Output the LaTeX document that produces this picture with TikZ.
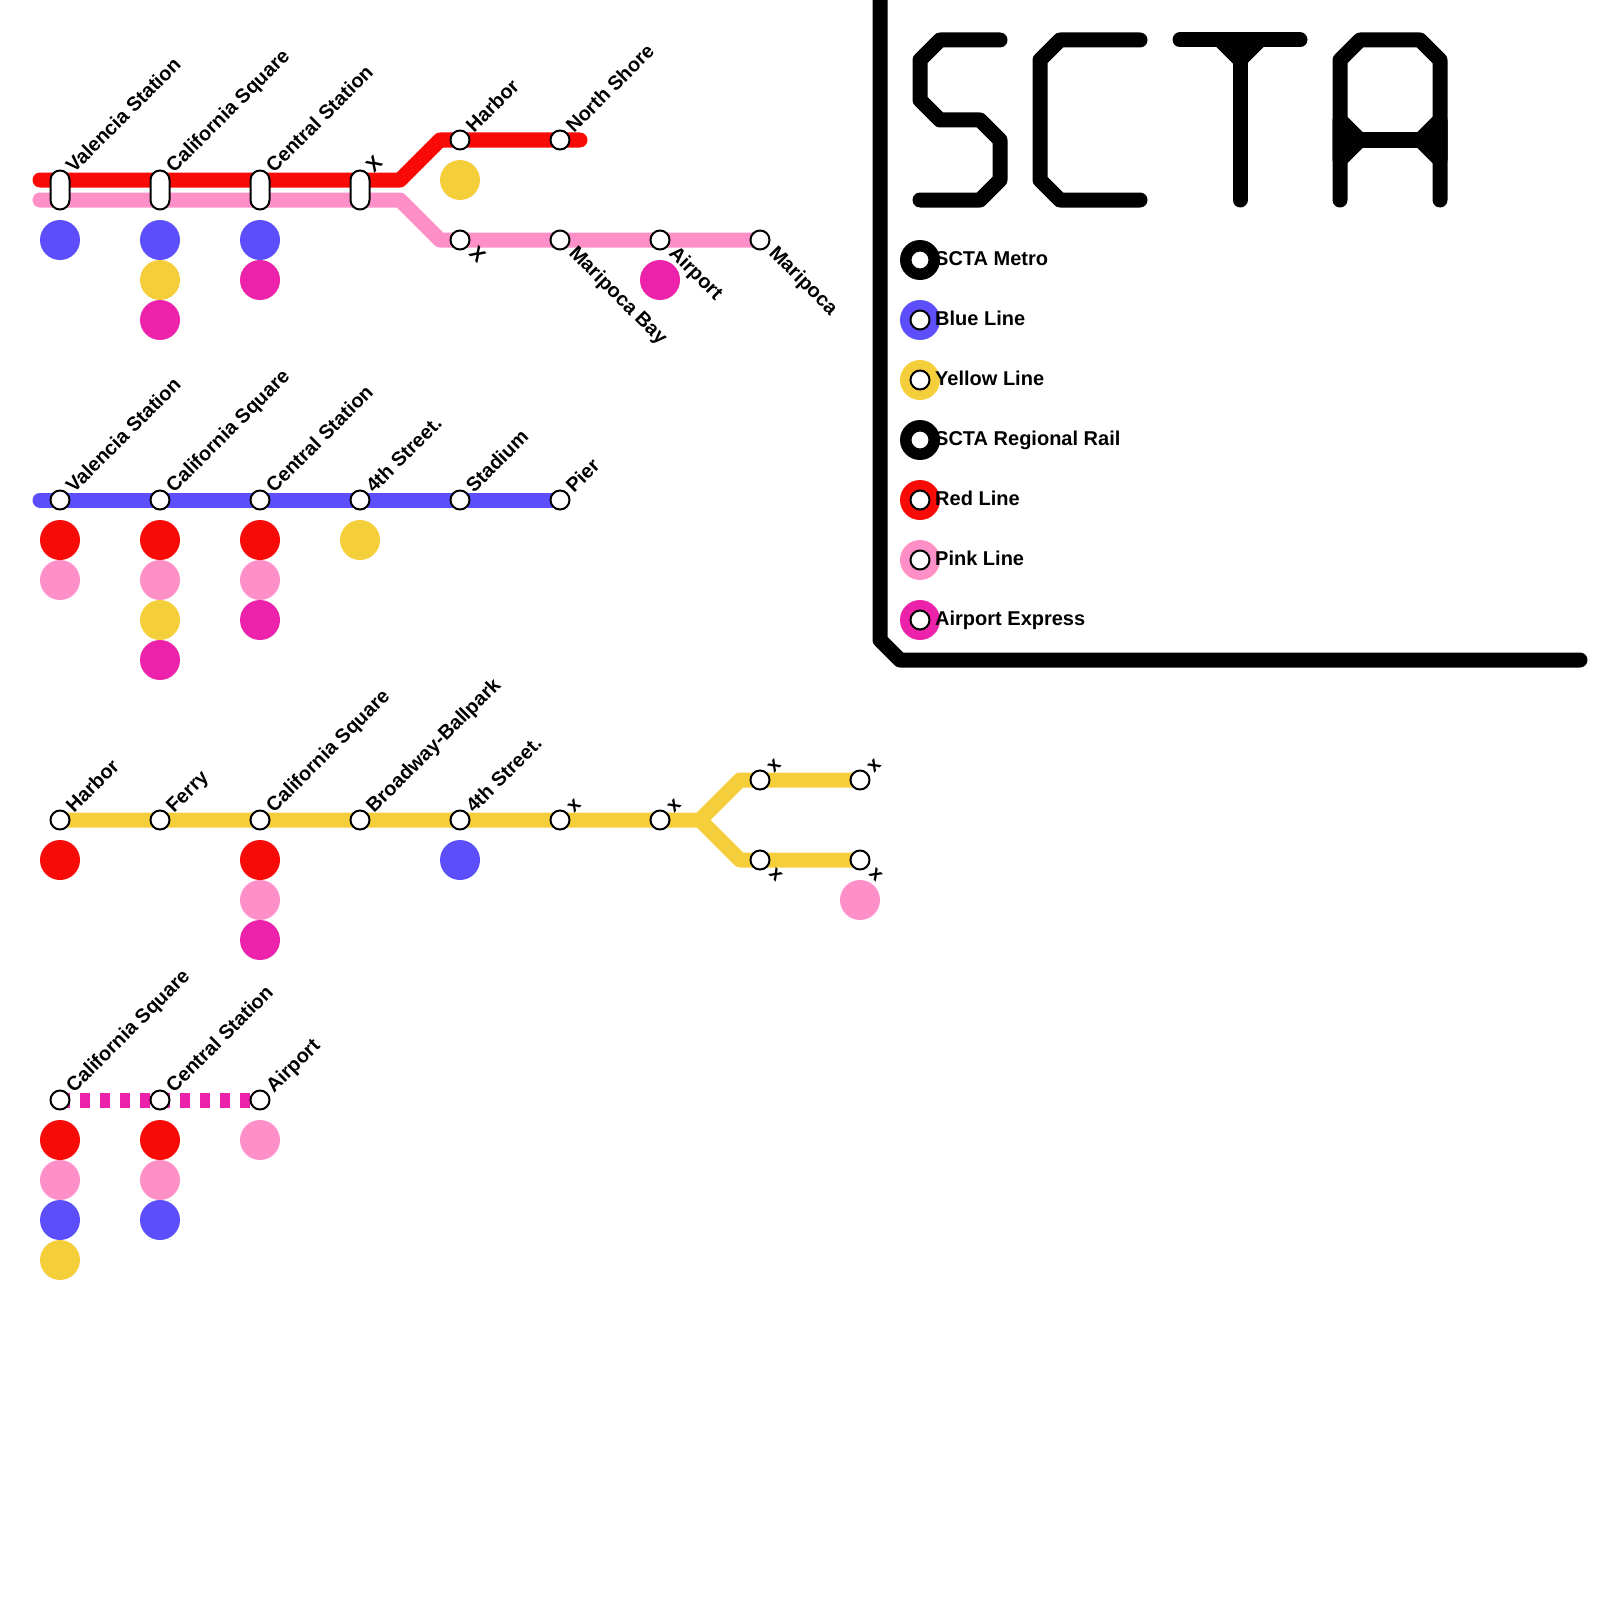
\documentclass[tikz,border=0pt]{standalone}
\usepackage{fontspec}
\setmainfont{Liberation Sans}
\definecolor{redline}{HTML}{F80A07}
\definecolor{pinkline}{HTML}{FF8FC7}
\definecolor{blueline}{HTML}{5C4EFA}
\definecolor{yellowline}{HTML}{F4CE3B}
\definecolor{airline}{HTML}{EC22AB}
\tikzset{
route/.style={line width=15pt,line cap=round,line join=round},
logo/.style={line width=15pt,line cap=round,line join=round,black},
stn/.style={circle,draw=black,fill=white,line width=2pt,minimum size=19pt,inner sep=0pt,outer sep=0pt},
swap/.style={rectangle,rounded corners=9.5pt,draw=black,fill=white,line width=2pt,minimum width=19pt,minimum height=39pt,inner sep=0pt,outer sep=0pt},
dot/.style={circle,fill=#1,minimum size=40pt,inner sep=0pt,outer sep=0pt},
lblup/.style={font=\fontsize{19.9}{24}\selectfont\bfseries,inner sep=0pt,anchor=base west,rotate=45},
lbldn/.style={font=\fontsize{19.9}{24}\selectfont\bfseries,inner sep=0pt,anchor=base west,rotate=-45},
lblkey/.style={font=\fontsize{20}{24}\selectfont\bfseries,inner sep=0pt,anchor=base west}
}
\begin{document}
\begin{tikzpicture}[x=1pt,y=-1pt]
\useasboundingbox (0,0) rectangle (1600,1600);
% red and pink
\coordinate (r0) at (40,180);
\coordinate (r1) at (400,180);
\coordinate (r2) at (440,140);
\coordinate (r3) at (580,140);
\coordinate (p0) at (40,200);
\coordinate (p1) at (400,200);
\coordinate (p2) at (440,240);
\coordinate (p3) at (760,240);
\draw[route,redline] (r0) -- (r1) -- (r2) -- (r3);
\draw[route,pinkline] (p0) -- (p1) -- (p2) -- (p3);
\foreach \x/\lab in {60/Valencia Station, 160/California Square, 260/Central Station, 360/X} {
\node (sw\x) at (\x,190) [swap] {};
\node (swl\x) at (\x+14,174) [lblup] {\lab};
}
\foreach \x/\lab in {460/Harbor, 560/North Shore} {
\node (rs\x) at (\x,140) [stn] {};
\node (rl\x) at (\x+14,134) [lblup] {\lab};
}
\foreach \x/\lab in {460/X, 560/Maripoca Bay, 660/Airport, 760/Maripoca} {
\node (ps\x) at (\x,240) [stn] {};
\node (pl\x) at (\x+8,254) [lbldn] {\lab};
}
% blue
\coordinate (b0) at (40,500);
\coordinate (b1) at (560,500);
\draw[route,blueline] (b0) -- (b1);
\foreach \x/\lab in {60/Valencia Station, 160/California Square, 260/Central Station, 360/4th Street., 460/Stadium, 560/Pier} {
\node (bs\x) at (\x,500) [stn] {};
\node (bl\x) at (\x+14,494) [lblup] {\lab};
}
% yellow
\coordinate (y0) at (60,820);
\coordinate (y1) at (700,820);
\coordinate (y2) at (740,780);
\coordinate (y3) at (860,780);
\coordinate (y4) at (740,860);
\coordinate (y5) at (860,860);
\draw[route,yellowline] (y0) -- (y1) -- (y2) -- (y3);
\draw[route,yellowline] (y1) -- (y4) -- (y5);
\foreach \x/\lab in {60/Harbor, 160/Ferry, 260/California Square, 360/Broadway-Ballpark, 460/4th Street., 560/x, 660/x} {
\node (ys\x) at (\x,820) [stn] {};
\node (yl\x) at (\x+14,814) [lblup] {\lab};
}
\foreach \x in {760, 860} {
\node (yt\x) at (\x,780) [stn] {};
\node (ytl\x) at (\x+14,774) [lblup] {x};
\node (yb\x) at (\x,860) [stn] {};
\node (ybl\x) at (\x+8,874) [lbldn] {x};
}
% airport
\coordinate (a0) at (60,1100);
\coordinate (a1) at (260,1100);
\draw[line width=15pt,airline,dash pattern=on 10pt off 10pt] (a0) -- (a1);
\foreach \x/\lab in {60/California Square, 160/Central Station, 260/Airport} {
\node (as\x) at (\x,1100) [stn] {};
\node (al\x) at (\x+14,1094) [lblup] {\lab};
}
% connection dots
\foreach \x/\y/\c in {60/240/blueline, 160/240/blueline, 160/280/yellowline, 160/320/airline,
260/240/blueline, 260/280/airline, 460/180/yellowline, 660/280/airline,
60/540/redline, 60/580/pinkline, 160/540/redline, 160/580/pinkline, 160/620/yellowline, 160/660/airline,
260/540/redline, 260/580/pinkline, 260/620/airline, 360/540/yellowline,
60/860/redline, 260/860/redline, 260/900/pinkline, 260/940/airline, 460/860/blueline, 860/900/pinkline,
60/1140/redline, 60/1180/pinkline, 60/1220/blueline, 60/1260/yellowline,
160/1140/redline, 160/1180/pinkline, 160/1220/blueline, 260/1140/pinkline} {
\node (d\x-\y) at (\x,\y) [dot=\c] {};
}
% frame and title
\draw[logo] (880,0) -- (880,640) -- (900,660) -- (1580,660);
\draw[logo] (1000,40) -- (940,40) -- (920,60) -- (920,100) -- (940,120) -- (980,120) -- (1000,140) -- (1000,180) -- (980,200) -- (920,200);
\draw[logo] (1140,40) -- (1060,40) -- (1040,60) -- (1040,180) -- (1060,200) -- (1140,200);
\draw[logo] (1180,40) -- (1300,40);
\draw[logo,fill] (1220,40) -- (1240,60) -- (1260,40) -- cycle;
\draw[logo] (1240,60) -- (1240,200);
\draw[logo] (1340,200) -- (1340,60) -- (1360,40) -- (1420,40) -- (1440,60) -- (1440,200);
\draw[logo] (1360,140) -- (1420,140);
\draw[logo,fill] (1340,120) -- (1360,140) -- (1340,160) -- cycle;
\draw[logo,fill] (1440,120) -- (1420,140) -- (1440,160) -- cycle;
% key
\foreach \y/\c/\lab in {260/black/SCTA Metro, 320/blueline/Blue Line, 380/yellowline/Yellow Line, 440/black/SCTA Regional Rail, 500/redline/Red Line, 560/pinkline/Pink Line, 620/airline/Airport Express} {
\node (kd\y) at (920,\y) [dot=\c] {};
\node (ks\y) at (920,\y) [stn] {};
\node (kl\y) at (935,\y+5) [lblkey] {\lab};
}
\end{tikzpicture}
\end{document}
